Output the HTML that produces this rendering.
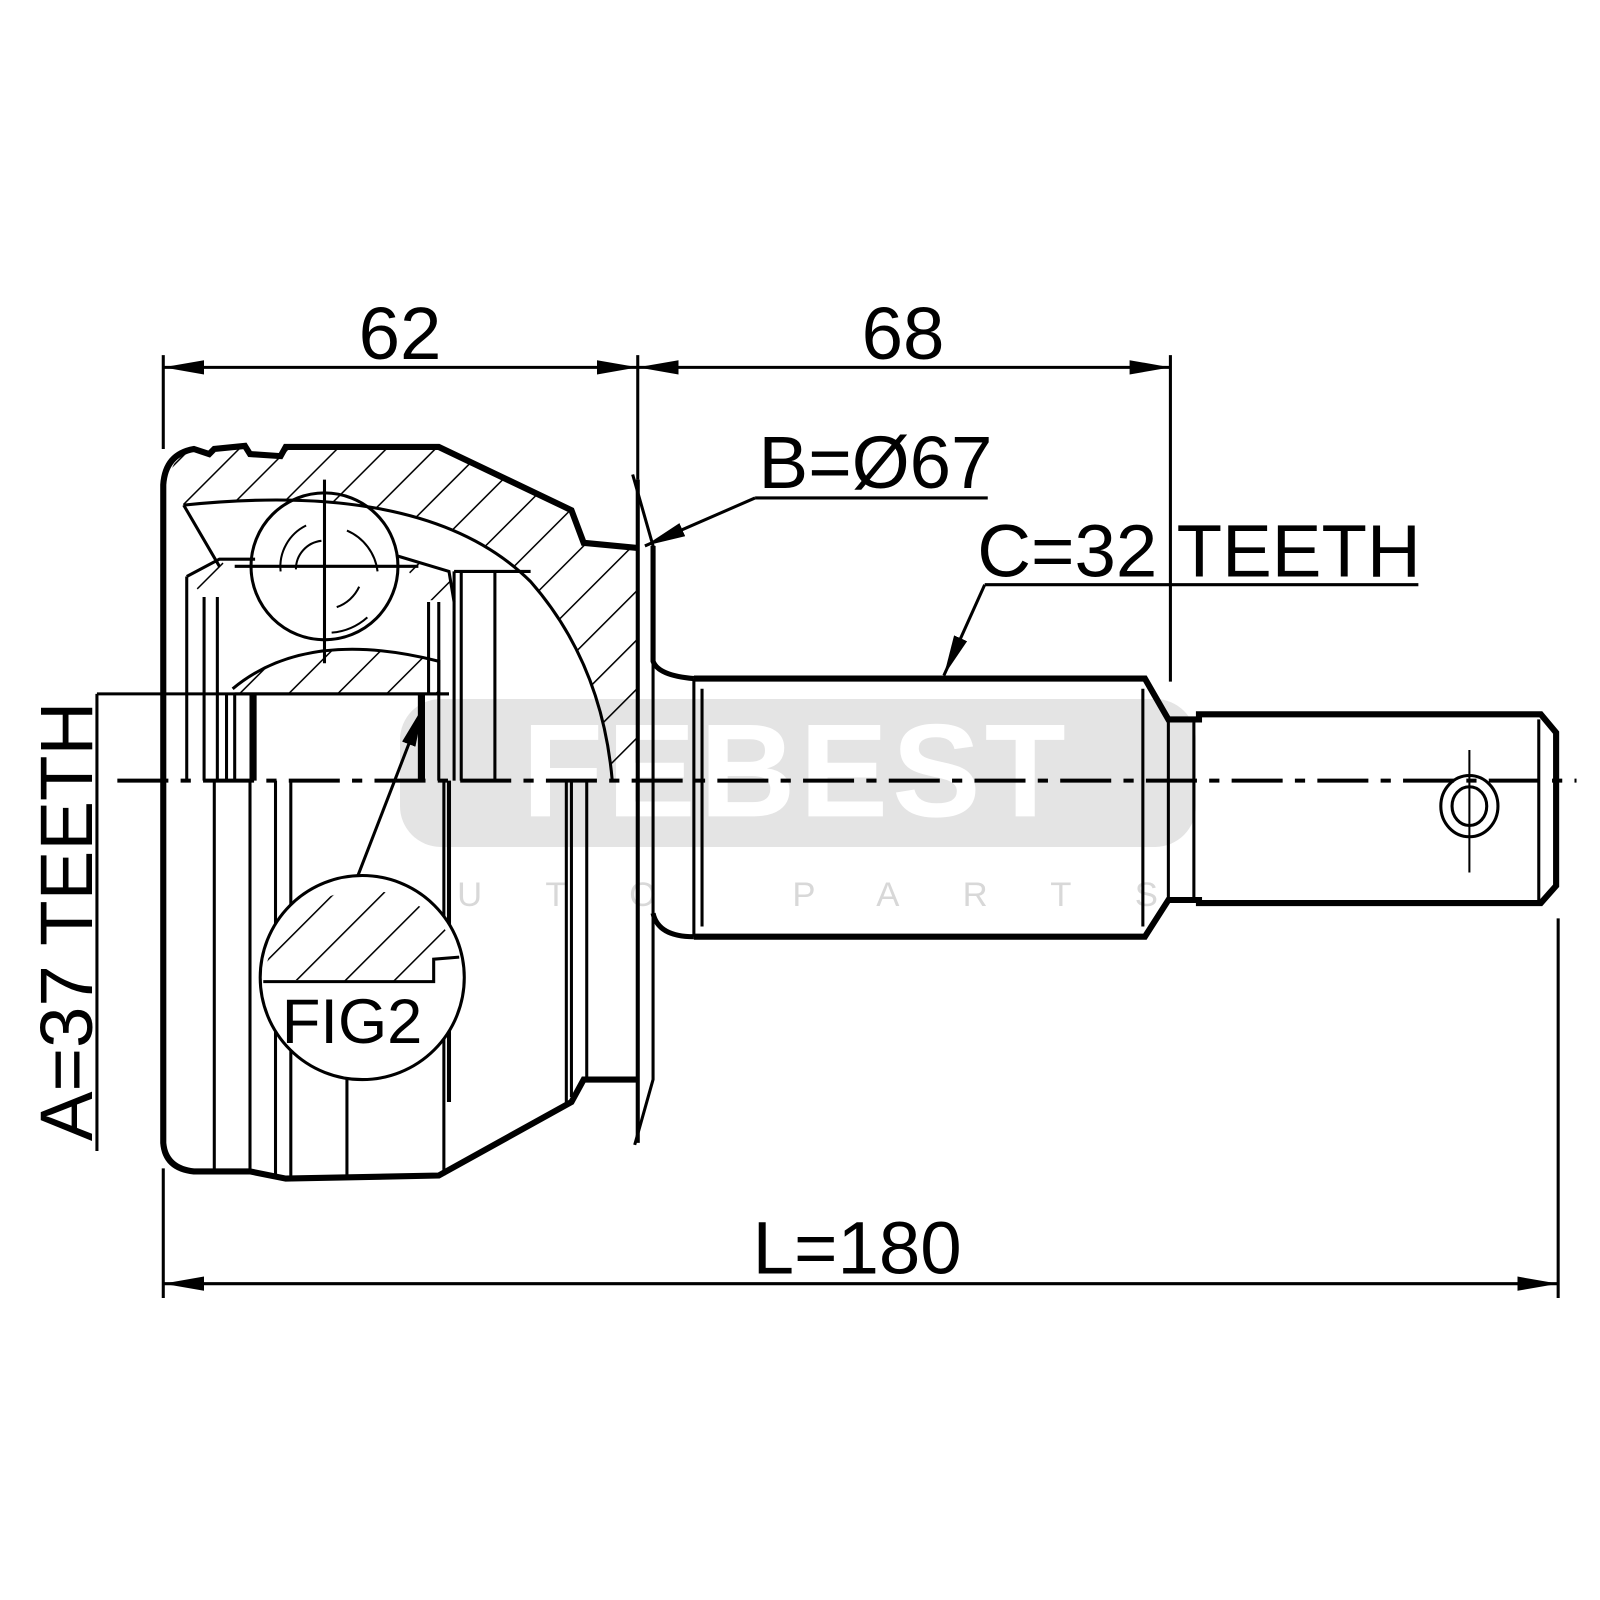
<!DOCTYPE html>
<html><head><meta charset="utf-8"><style>
html,body{margin:0;padding:0;background:#fff;}
svg{display:block}
text{font-family:"Liberation Sans",Arial,sans-serif;fill:#000}
</style></head><body>
<svg width="1600" height="1600" viewBox="0 0 1568 1568" xmlns="http://www.w3.org/2000/svg">
<defs>
<pattern id="h" width="34" height="34" patternUnits="userSpaceOnUse" patternTransform="rotate(45)">
<line x1="0" y1="0" x2="0" y2="34" stroke="#000" stroke-width="3"/>
</pattern>
<marker id="a" viewBox="0 0 40 14" refX="40" refY="7" markerWidth="40" markerHeight="14" markerUnits="userSpaceOnUse" orient="auto-start-reverse">
<path d="M0,0 L40,7 L0,14 Z" fill="#000"/>
</marker>
</defs>

<rect x="392" y="685" width="780" height="145" rx="40" fill="#e4e4e4"/>
<text x="780" y="800" text-anchor="middle" font-size="130" font-weight="bold" style="fill:#fff" letter-spacing="4">FEBEST</text>
<text x="780" y="888" text-anchor="middle" font-size="34" style="fill:#d8d8d8" letter-spacing="62">AUTO PARTS</text>

<g stroke="#000" fill="none" stroke-width="3">
<line x1="160" y1="348" x2="160" y2="440"/>
<line x1="160" y1="1145" x2="160" y2="1272"/>
<line x1="625" y1="348" x2="625" y2="470"/>
<line x1="1147" y1="348" x2="1147" y2="668"/>
<line x1="1527" y1="900" x2="1527" y2="1272"/>
<line x1="160" y1="360" x2="625" y2="360" marker-start="url(#a)" marker-end="url(#a)"/>
<line x1="625" y1="360" x2="1147" y2="360" marker-start="url(#a)" marker-end="url(#a)"/>
<line x1="160" y1="1258" x2="1527" y2="1258" marker-start="url(#a)" marker-end="url(#a)"/>
<line x1="95" y1="680" x2="95" y2="1128"/>
<line x1="95" y1="680" x2="440" y2="680"/>
<line x1="740" y1="488" x2="968" y2="488"/>
<line x1="740" y1="488" x2="632" y2="535" marker-end="url(#a)"/>
<line x1="965" y1="573" x2="1390" y2="573"/>
<line x1="965" y1="573" x2="925" y2="662" marker-end="url(#a)"/>
<line x1="350" y1="860" x2="415" y2="692" marker-end="url(#a)"/>
</g>

<path d="M165,475 Q168,442 195,440 L280,438 L430,438 L560,500 L572,532 L625,537 L625,765 L600,765 Q590,650 520,570 Q420,470 180,495 Z" fill="url(#h)"/>
<path d="M228,675 Q300,615 430,648 L430,680 L228,680 Z" fill="url(#h)"/>
<path d="M183,565 L215,548 L240,575 L200,585 Z" fill="url(#h)"/>
<path d="M390,545 L440,560 L445,590 L420,588 Z" fill="url(#h)"/>

<g stroke="#000" fill="none">
<path stroke-width="6" d="M625,537 L572,532 L560,500 L430,438 L280,438 L275,447 L245,445 L240,437 L210,440 L205,445 L190,440 Q162,445 160,475 L160,1120 Q162,1145 190,1148 L210,1148 L245,1148 L280,1155 L430,1152 L560,1080 L572,1058 L625,1058"/>
<path stroke-width="3" d="M180,495 Q420,470 520,570 Q590,650 600,765"/>
<path stroke-width="3" d="M620,465 L640,535 L640,765 M640,765 L640,1058 L622,1122"/>
<path stroke-width="4" d="M625,470 L625,1120"/>
<path stroke-width="5" d="M640,535 L640,648 Q645,662 680,665 M640,895 Q645,918 680,918"/>
<path stroke-width="6" d="M680,665 L1122,665 L1145,705 L1175,705 L1175,700 L1510,700 L1525,718 L1525,868 L1510,885 L1175,885 L1175,882 L1145,882 L1122,918 L680,918"/>
<line stroke-width="3" x1="680" y1="665" x2="680" y2="918"/>
<line stroke-width="3" x1="688" y1="675" x2="688" y2="908"/>
<line stroke-width="3" x1="1120" y1="675" x2="1120" y2="908"/>
<line stroke-width="3" x1="1170" y1="705" x2="1170" y2="882"/>
<line stroke-width="3" x1="1145" y1="705" x2="1145" y2="882"/>
<line stroke-width="3" x1="1508" y1="705" x2="1508" y2="882"/>
<ellipse stroke-width="3" cx="1440" cy="790" rx="28" ry="30"/>
<ellipse stroke-width="3" cx="1440" cy="790" rx="17" ry="19"/>
<line stroke-width="2" x1="1440" y1="735" x2="1440" y2="855"/>
<circle stroke-width="3" cx="318" cy="555" r="72"/>
<line stroke-width="3" x1="318" y1="470" x2="318" y2="650"/>
<line stroke-width="3" x1="230" y1="555" x2="410" y2="555"/>
<path stroke-width="2" d="M275,560 A45,45 0 0 1 300,515 M290,558 A28,28 0 0 1 315,530 M340,520 A50,50 0 0 1 370,560 M330,595 A38,38 0 0 0 352,575 M325,620 A60,60 0 0 0 360,605"/>
<path stroke-width="3" d="M228,675 Q300,615 430,648 L430,680"/>
<path stroke-width="3" d="M180,495 L215,555 M183,565 L215,548 L250,548 M390,545 L440,560 L445,590"/>
<g stroke-width="3">
<line x1="183" y1="565" x2="183" y2="765"/>
<line x1="200" y1="585" x2="200" y2="765"/>
<line x1="213" y1="585" x2="213" y2="765"/>
<line x1="222" y1="680" x2="222" y2="765"/>
<line x1="230" y1="680" x2="230" y2="765"/>
<line x1="420" y1="590" x2="420" y2="680"/>
<line x1="430" y1="590" x2="430" y2="765"/>
<line x1="445" y1="560" x2="445" y2="765"/>
<line x1="452" y1="560" x2="452" y2="765"/>
<line x1="485" y1="560" x2="485" y2="765"/>
<line x1="445" y1="560" x2="520" y2="560"/>
<line x1="230" y1="680" x2="440" y2="680"/>
<line x1="210" y1="765" x2="210" y2="1148"/>
<line x1="245" y1="765" x2="245" y2="1148"/>
<line x1="270" y1="765" x2="270" y2="1152"/>
<line x1="285" y1="765" x2="285" y2="1152"/>
<line x1="340" y1="1050" x2="340" y2="1152"/>
<line x1="435" y1="765" x2="435" y2="1152"/>
<line x1="555" y1="765" x2="555" y2="1082"/>
<line x1="560" y1="765" x2="560" y2="1075"/>
<line x1="575" y1="765" x2="575" y2="1058"/>
</g>
<line stroke-width="7" x1="248" y1="680" x2="248" y2="765"/>
<line stroke-width="7" x1="413" y1="680" x2="413" y2="765"/>
<line stroke-width="4" x1="440" y1="765" x2="440" y2="1080"/>
<line stroke-width="4" x1="115" y1="765" x2="1545" y2="765" stroke-dasharray="50,12,10,12"/>
</g>

<circle cx="355" cy="958" r="100" fill="#fff" stroke="#000" stroke-width="3"/>
<path d="M258,960 A100,100 0 0 1 450,935 L425,938 L425,962 Z" fill="url(#h)"/>
<path d="M258,962 L425,962 L425,940 L450,938" fill="none" stroke="#000" stroke-width="3"/>
<text x="345" y="1022" text-anchor="middle" font-size="62">FIG2</text>

<text x="392" y="352" text-anchor="middle" font-size="73">62</text>
<text x="885" y="352" text-anchor="middle" font-size="73">68</text>
<text x="858" y="478" text-anchor="middle" font-size="73">B=Ø67</text>
<text x="1175" y="565" text-anchor="middle" font-size="73">C=32 TEETH</text>
<text x="840" y="1248" text-anchor="middle" font-size="73">L=180</text>
<text transform="translate(90,903) rotate(-90)" text-anchor="middle" font-size="73">A=37 TEETH</text>
</svg>
</body></html>
